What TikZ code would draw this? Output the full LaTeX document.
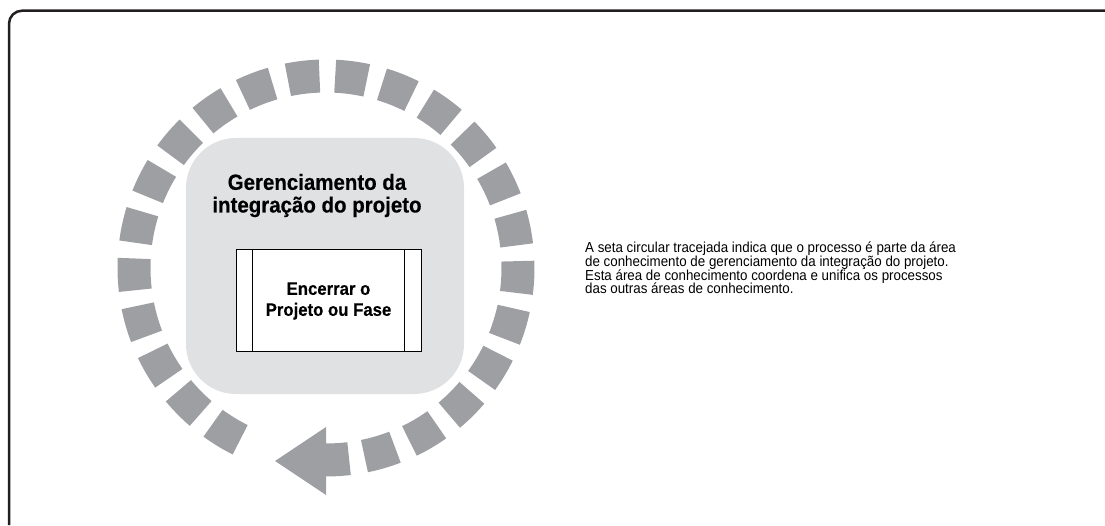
\documentclass[tikz,border=0pt]{standalone}
\usepackage{fontspec}
\setmainfont{Liberation Sans}
\newfontfamily\narrowsans[FakeStretch=0.92]{Liberation Sans}
\newfontfamily\heavysans[FakeStretch=0.93, BoldFeatures={FakeBold=0.4}]{Liberation Sans}
\usetikzlibrary{positioning}

\definecolor{framegray}{RGB}{35,31,32}
\definecolor{ringgray}{RGB}{158,159,163}
\definecolor{areagray}{RGB}{224,225,227}

\begin{document}
\begin{tikzpicture}[
    x=1pt, y=1pt,
    area/.style={
      fill=areagray, rounded corners=50pt, inner sep=0pt,
      minimum width=278pt, minimum height=256pt
    },
    ttl/.style={
      align=center, inner sep=0pt,
      font=\heavysans\bfseries\fontsize{22}{22.7}\selectfont
    },
    proc/.style={
      draw=black, line width=1pt, fill=white, align=center, inner sep=0pt,
      minimum width=185pt, minimum height=102pt,
      font=\heavysans\bfseries\fontsize{18}{21}\selectfont
    },
    note/.style={
      align=left, anchor=west, inner sep=0pt,
      font=\narrowsans\fontsize{14.5}{13.8}\selectfont
    },
    dashseg/.style={ringgray, line width=33pt},
  ]
    \useasboundingbox (0,0) rectangle (1105,525);
    \draw[framegray, line width=2.5pt, rounded corners=13pt] (9,0) |- (1105,514.3);

    % dashed circular arrow
    \begin{scope}[shift={(326,257)}]
      \foreach \a in {-73.7,-59.5,...,239.5}
        \draw[dashseg] (\a-4.75:192) arc[start angle=\a-4.75, end angle=\a+4.75, radius=192];
      \draw[dashseg] (-90:192) arc[start angle=-90, end angle=-83.1, radius=192];
      \fill[ringgray] (0,-159) -- (0,-227) -- (-51,-193) -- cycle;
    \end{scope}

    \node[area] (ka) at (325,259) {};
    \node[ttl] (kt) at (317,329.5) {Gerenciamento da\\integração do projeto};
    \node[proc] (enc) at (328.5,224) {Encerrar o\\Projeto ou Fase};
    \draw[line width=1pt] ([xshift=17pt]enc.north west) -- ([xshift=17pt]enc.south west);
    \draw[line width=1pt] ([xshift=-17pt]enc.north east) -- ([xshift=-17pt]enc.south east);

    \node[note] (txt) at (585,257) {%
      A seta circular tracejada indica que o processo é parte da área\\
      de conhecimento de gerenciamento da integração do projeto.\\
      Esta área de conhecimento coordena e unifica os processos\\
      das outras áreas de conhecimento.};
\end{tikzpicture}
\end{document}
